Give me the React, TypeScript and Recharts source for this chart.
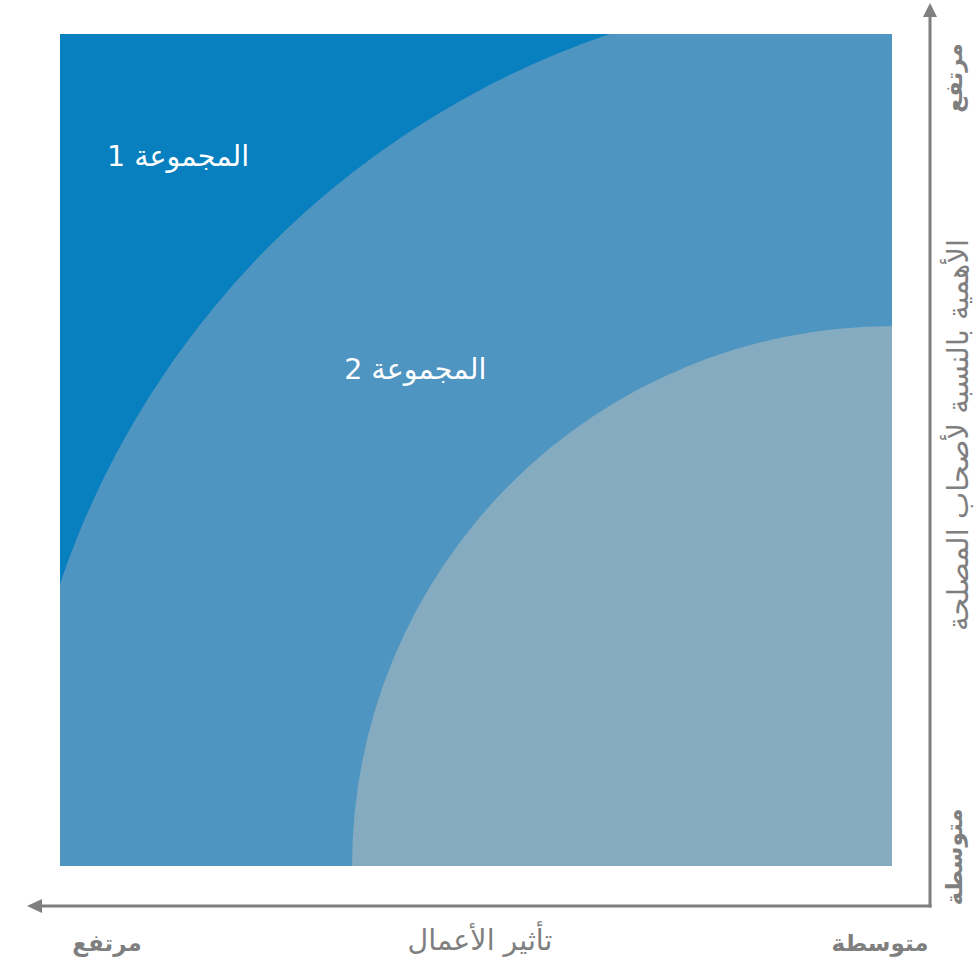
import React from 'react';
import { ScatterChart, Scatter, XAxis, YAxis, ReferenceArea } from 'recharts';

// ---- data ----
const xDomain: [number, number] = [0, 100];
const yDomain: [number, number] = [0, 100];
const outerZone = [{ x: 0, y: 0, r: 105.6 }];
const innerZone = [{ x: 0, y: 0, r: 64.9 }];
const groupLabels = [
  { x: 85.8, y: 85.3, text: 'المجموعة 1' },
  { x: 57.3, y: 59.7, text: 'المجموعة 2' },
];
const xAxisTitle = 'تأثير الأعمال';
const yAxisTitle = 'الأهمية بالنسبة لأصحاب المصلحة';
const lowLabel = 'متوسطة';
const highLabel = 'مرتفع';

// ---- layout ----
const W = 979;
const H = 959;
const MARGIN = { top: 34, right: 87, bottom: 93, left: 60 };
const PLOT_W = W - MARGIN.left - MARGIN.right;
const PLOT_H = H - MARGIN.top - MARGIN.bottom;
const PX_PER_UNIT = PLOT_W / (xDomain[1] - xDomain[0]);

const C_BG = '#087fbf';
const C_MID = '#4f95c1';
const C_LIGHT = '#84abbf';
const C_AXIS = '#7f7f7f';
const FONT = '"DejaVu Sans", "Noto Sans", sans-serif';

const makeCircle = (fill: string, id: string) => (props: any) => {
  const { cx, cy, payload } = props;
  const r = payload.r * PX_PER_UNIT;
  return (
    <g>
      <defs>
        <clipPath id={id}>
          <rect x={MARGIN.left} y={MARGIN.top} width={PLOT_W} height={PLOT_H} />
        </clipPath>
      </defs>
      <circle cx={cx} cy={cy} r={r} fill={fill} clipPath={`url(#${id})`} />
    </g>
  );
};

const labelShape = (props: any) => {
  const { cx, cy, payload } = props;
  return (
    <text
      x={cx}
      y={cy}
      textAnchor="middle"
      dominantBaseline="central"
      direction="rtl"
      fill="#ffffff"
      fontSize={28.5}
      fontFamily={FONT}
      style={{ direction: 'rtl' }}
    >
      {payload.text}
    </text>
  );
};

export default function App() {
  return (
    <div style={{ position: 'absolute', left: 0, top: 0, width: W, height: H }}>
      <ScatterChart width={W} height={H} margin={MARGIN}>
        <XAxis type="number" dataKey="x" domain={xDomain} reversed hide allowDataOverflow />
        <YAxis type="number" dataKey="y" domain={yDomain} hide allowDataOverflow />
        <ReferenceArea x1={0} x2={100} y1={0} y2={100} fill={C_BG} fillOpacity={1} stroke="none" />
        <Scatter data={outerZone} shape={makeCircle(C_MID, 'clipOuter')} isAnimationActive={false} />
        <Scatter data={innerZone} shape={makeCircle(C_LIGHT, 'clipInner')} isAnimationActive={false} />
        <Scatter data={groupLabels} shape={labelShape} isAnimationActive={false} />
      </ScatterChart>
      <svg
        width={W}
        height={H}
        style={{ position: 'absolute', left: 0, top: 0, pointerEvents: 'none' }}
      >
        {/* vertical axis arrow */}
        <line x1={930} y1={907.5} x2={930} y2={14} stroke={C_AXIS} strokeWidth={3} />
        <polygon points="930,3 923,17 937,17" fill={C_AXIS} />
        {/* horizontal axis arrow */}
        <line x1={931.5} y1={906} x2={40} y2={906} stroke={C_AXIS} strokeWidth={3} />
        <polygon points="27,906 42,899 42,913" fill={C_AXIS} />

        {/* vertical labels */}
        <text
          transform="translate(954,78) rotate(-90)"
          textAnchor="middle"
          dominantBaseline="central"
          fontFamily={FONT}
          fontWeight="bold"
          fontSize={23}
          fill={C_AXIS}
          style={{ direction: 'rtl' }}
        >
          {highLabel}
        </text>
        <text
          transform="translate(954,857) rotate(-90)"
          textAnchor="middle"
          dominantBaseline="central"
          fontFamily={FONT}
          fontWeight="bold"
          fontSize={23}
          fill={C_AXIS}
          style={{ direction: 'rtl' }}
        >
          {lowLabel}
        </text>
        <text
          transform="translate(958,435) rotate(-90)"
          textAnchor="middle"
          dominantBaseline="central"
          fontFamily={FONT}
          fontSize={29}
          fill={C_AXIS}
          style={{ direction: 'rtl' }}
        >
          {yAxisTitle}
        </text>

        {/* horizontal labels */}
        <text
          x={107}
          y={943}
          textAnchor="middle"
          dominantBaseline="central"
          fontFamily={FONT}
          fontWeight="bold"
          fontSize={23}
          fill={C_AXIS}
          style={{ direction: 'rtl' }}
        >
          {highLabel}
        </text>
        <text
          x={880}
          y={943}
          textAnchor="middle"
          dominantBaseline="central"
          fontFamily={FONT}
          fontWeight="bold"
          fontSize={23}
          fill={C_AXIS}
          style={{ direction: 'rtl' }}
        >
          {lowLabel}
        </text>
        <text
          x={480}
          y={940}
          textAnchor="middle"
          dominantBaseline="central"
          fontFamily={FONT}
          fontSize={28.5}
          fill={C_AXIS}
          style={{ direction: 'rtl' }}
        >
          {xAxisTitle}
        </text>
      </svg>
    </div>
  );
}
